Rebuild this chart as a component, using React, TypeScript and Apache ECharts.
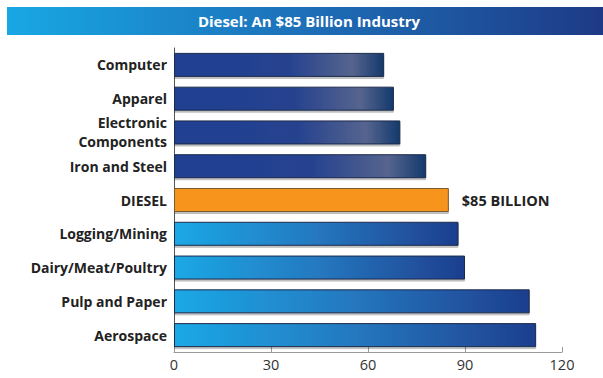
import React, { useEffect, useRef } from "react";
import * as echarts from "echarts";

const categories = [
  "Computer",
  "Apparel",
  "Electronic\nComponents",
  "Iron and Steel",
  "DIESEL",
  "Logging/Mining",
  "Dairy/Meat/Poultry",
  "Pulp and Paper",
  "Aerospace",
];
const values = [65, 68, 70, 78, 85, 88, 90, 110, 112];
const groups = ["top", "top", "top", "top", "diesel", "bottom", "bottom", "bottom", "bottom"];
const xTicks = [0, 30, 60, 90, 120];
const titleText = "Diesel: An $85 Billion Industry";
const dieselLabel = "$85 BILLION";

const FONT = "'Open Sans', 'DejaVu Sans', sans-serif";

export default function App() {
  const ref = useRef<HTMLDivElement>(null);
  useEffect(() => {
    if (!ref.current) return;
    const chart = echarts.init(ref.current, null, { renderer: "svg" });
    const topGrad = new echarts.graphic.LinearGradient(0, 0, 1, 0, [
      { offset: 0, color: "#203f92" },
      { offset: 0.55, color: "#26438f" },
      { offset: 0.85, color: "#56648e" },
      { offset: 1, color: "#133a6c" },
    ]);
    const bottomGrad = new echarts.graphic.LinearGradient(0, 0, 1, 0, [
      { offset: 0, color: "#1ba8e6" },
      { offset: 0.5, color: "#2578bf" },
      { offset: 1, color: "#1e3e8e" },
    ]);
    const data = values.map((v, i) => {
      const g = groups[i];
      const item: any = {
        value: v,
        itemStyle: {
          color: g === "diesel" ? "#f7941d" : g === "top" ? topGrad : bottomGrad,
          borderColor: g === "diesel" ? "#7a5a30" : "#1c2a4a",
          borderWidth: 1,
          shadowColor: "rgba(0,0,0,0.25)",
          shadowOffsetY: 2,
          shadowBlur: 1,
        },
      };
      if (g === "diesel") {
        item.label = {
          show: true,
          position: "right",
          distance: 13,
          formatter: dieselLabel,
          fontFamily: FONT,
          fontWeight: "bold",
          fontSize: 14.5,
          color: "#222222",
        };
      }
      return item;
    });
    chart.setOption({
      animation: false,
      backgroundColor: "#ffffff",
      grid: { left: 174, right: 41, top: 48, bottom: 26 },
      xAxis: {
        type: "value",
        min: 0,
        max: 120,
        interval: 30,
        splitLine: { show: false },
        axisLine: { show: true, lineStyle: { color: "#999999", width: 1 } },
        axisTick: { show: true, inside: true, length: 5, lineStyle: { color: "#999999" } },
        axisLabel: {
          fontFamily: FONT,
          fontSize: 14.5,
          color: "#333333",
          margin: 5,
          formatter: (v: number) => (xTicks.includes(v) ? String(v) : ""),
        },
      },
      yAxis: {
        type: "category",
        data: categories,
        inverse: true,
        axisLine: { show: true, lineStyle: { color: "#555555", width: 1 } },
        axisTick: { show: false },
        axisLabel: {
          fontFamily: FONT,
          fontWeight: "bold",
          fontSize: 14,
          color: "#222222",
          margin: 7,
          lineHeight: 19,
        },
      },
      series: [
        {
          type: "bar",
          data,
          barWidth: 24,
        },
      ],
      graphic: [
        {
          type: "rect",
          left: 7,
          top: 7,
          shape: { width: 596, height: 28 },
          style: {
            fill: new echarts.graphic.LinearGradient(0, 0, 1, 0, [
              { offset: 0, color: "#18a8e4" },
              { offset: 0.5, color: "#1d6fb8" },
              { offset: 1, color: "#1e3a86" },
            ]),
          },
        },
        {
          type: "text",
          x: 309,
          y: 21,
          style: {
            text: titleText,
            fill: "#ffffff",
            fontFamily: FONT,
            fontWeight: "bold",
            fontSize: 15,
            align: "center",
            verticalAlign: "middle",
          },
        },
      ],
    });
    return () => chart.dispose();
  }, []);
  return <div ref={ref} style={{ width: 603, height: 378, position: "absolute", left: 0, top: 0 }} />;
}
